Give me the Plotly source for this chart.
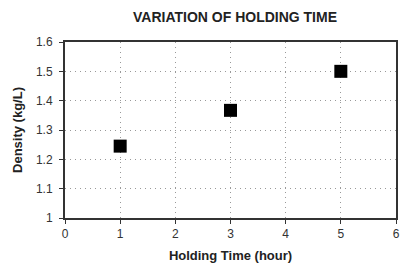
import plotly.graph_objects as go

holding_time = [1, 3, 5]
density = [1.245, 1.367, 1.5]
x_ticks = [0, 1, 2, 3, 4, 5, 6]
y_ticks = [1, 1.1, 1.2, 1.3, 1.4, 1.5, 1.6]
y_tick_labels = ["1", "1.1", "1.2", "1.3", "1.4", "1.5", "1.6"]

fig = go.Figure()
fig.add_trace(go.Scatter(
    x=holding_time, y=density, mode="markers",
    marker=dict(symbol="square", size=13, color="black",
                line=dict(width=0)),
    showlegend=False, cliponaxis=False, hoverinfo="skip",
))

font = "Liberation Sans, Arial, sans-serif"
fig.update_layout(
    width=401, height=270,
    margin=dict(l=65, r=5, t=42, b=52, autoexpand=False),
    paper_bgcolor="white", plot_bgcolor="white",
    title=dict(text="<b>VARIATION OF HOLDING TIME</b>", x=235/401, xanchor="center",
               y=1 - 17/270, yanchor="middle",
               font=dict(family=font, size=14, color="#222")),
    font=dict(family=font, size=12, color="#333"),
    hovermode=False,
)
fig.update_xaxes(
    range=[0, 6], tickvals=x_ticks, ticktext=[str(v) for v in x_ticks],
    showgrid=True, gridcolor="#999", griddash="1px,4px", gridwidth=1,
    showline=True, linecolor="#333", linewidth=2, mirror=True,
    ticks="outside", ticklen=4, tickcolor="#333", zeroline=False,
    automargin=False, ticklabeloverflow="allow",
    title=dict(text="<b>Holding Time (hour)</b>", font=dict(family=font, size=13, color="#222"),
               standoff=10),
)
fig.update_yaxes(
    range=[1, 1.6], tickvals=y_ticks, ticktext=y_tick_labels,
    showgrid=True, gridcolor="#999", griddash="1px,4px", gridwidth=1,
    showline=True, linecolor="#333", linewidth=2, mirror=True,
    ticks="outside", ticklen=4, tickcolor="#333", zeroline=False,
    automargin=False, ticklabelstandoff=4,
    title=dict(text="<b>Density (kg/L)</b>", font=dict(family=font, size=13, color="#222"),
               standoff=10),
)
fig.write_html(
    "out.html",
    config={"displayModeBar": False, "staticPlot": True},
    post_script="document.body.style.margin='0';document.documentElement.style.overflow='hidden';",
)
